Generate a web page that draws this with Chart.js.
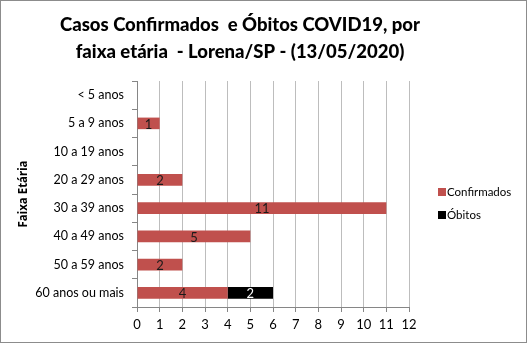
<!DOCTYPE html>
<html>
<head>
<meta charset="utf-8">
<script src="https://cdn.jsdelivr.net/npm/chart.js@4/dist/chart.umd.min.js"></script>
<style>
  body { margin: 0; background: #fff; }
  .frame {
    width: 527px;
    height: 343px;
    box-sizing: border-box;
    border: 1px solid #8c8c8c;
    background: #fff;
  }
  canvas { display: block; }
</style>
</head>
<body>
<div class="frame">
  <canvas id="faixaChart" width="525" height="341"></canvas>
</div>
<script>
const faixas = [
  "< 5 anos",
  "5 a 9 anos",
  "10 a 19 anos",
  "20 a 29 anos",
  "30 a 39 anos",
  "40 a 49 anos",
  "50 a 59 anos",
  "60 anos ou mais",
];
const confirmados = [0, 1, 0, 2, 11, 5, 2, 4];
const obitos = [0, 0, 0, 0, 0, 0, 0, 2];
const xTicks = [0, 1, 2, 3, 4, 5, 6, 7, 8, 9, 10, 11, 12];

const titleLines = [
  "Casos Confirmados  e Óbitos COVID19, por",
  "faixa etária  - Lorena/SP - (13/05/2020)",
];

const FONT = "Lato, 'Open Sans', sans-serif";
const axisGray = "#868686";

// title, value labels inside the bars and the legend on the right
const overlay = {
  id: "overlay",
  afterDatasetsDraw(chart) {
    const ctx = chart.ctx;
    ctx.save();
    ctx.font = "13px " + FONT;
    ctx.textAlign = "center";
    ctx.textBaseline = "middle";
    chart.data.datasets.forEach((ds, di) => {
      chart.getDatasetMeta(di).data.forEach((bar, i) => {
        const v = ds.data[i];
        if (!v) return;
        const { x, y, base } = bar.getProps(["x", "y", "base"], true);
        ctx.fillStyle = ds.labelColor;
        ctx.fillText(String(v), (x + base) / 2, y + 1);
      });
    });
    ctx.restore();
  },
  afterDraw(chart) {
    const ctx = chart.ctx;
    ctx.save();
    ctx.fillStyle = "#000";
    ctx.font = "900 18.5px " + FONT;
    ctx.textAlign = "center";
    ctx.textBaseline = "middle";
    titleLines.forEach((t, i) => ctx.fillText(t, 239, 24 + i * 27));

    ctx.font = "11.5px " + FONT;
    ctx.textAlign = "left";
    chart.data.datasets.forEach((ds, i) => {
      const y = 191 + i * 23;
      ctx.fillStyle = ds.backgroundColor;
      ctx.fillRect(437, y - 4, 8, 8);
      ctx.fillStyle = "#000";
      ctx.fillText(ds.label, 446, y);
    });
    ctx.restore();
  },
};

new Chart(document.getElementById("faixaChart").getContext("2d"), {
  type: "bar",
  data: {
    labels: faixas,
    datasets: [
      {
        label: "Confirmados",
        data: confirmados,
        backgroundColor: "#c0504d",
        labelColor: "#1a1a1a",
        barPercentage: 0.41,
        categoryPercentage: 1,
      },
      {
        label: "Óbitos",
        data: obitos,
        backgroundColor: "#000000",
        labelColor: "#ffffff",
        barPercentage: 0.41,
        categoryPercentage: 1,
      },
    ],
  },
  options: {
    indexAxis: "y",
    responsive: false,
    animation: false,
    layout: { padding: { top: 80, right: 117, bottom: 0, left: 0 } },
    plugins: {
      legend: { display: false },
      title: { display: false },
      tooltip: { enabled: false },
    },
    scales: {
      x: {
        stacked: true,
        min: 0,
        max: 12,
        afterBuildTicks: (scale) => {
          scale.ticks = xTicks.map((v) => ({ value: v }));
        },
        afterFit: (scale) => {
          scale.height = 35;
        },
        grid: {
          color: "#bdbdbd",
          tickColor: axisGray,
          tickLength: 5,
        },
        border: { color: axisGray },
        ticks: {
          color: "#000",
          padding: 5,
          font: { family: FONT, size: 13 },
        },
      },
      y: {
        stacked: true,
        afterFit: (scale) => {
          scale.width = 136;
        },
        grid: {
          offset: true,
          drawOnChartArea: false,
          tickColor: axisGray,
          tickLength: 5,
        },
        border: { color: axisGray },
        ticks: {
          color: "#000",
          padding: 8,
          font: { family: FONT, size: 12.5 },
        },
        title: {
          display: true,
          text: "Faixa Etária",
          color: "#000",
          padding: { top: 16 },
          font: { family: "'Noto Sans', sans-serif", size: 11.5, weight: "bold" },
        },
      },
    },
  },
  plugins: [overlay],
});
</script>
</body>
</html>
